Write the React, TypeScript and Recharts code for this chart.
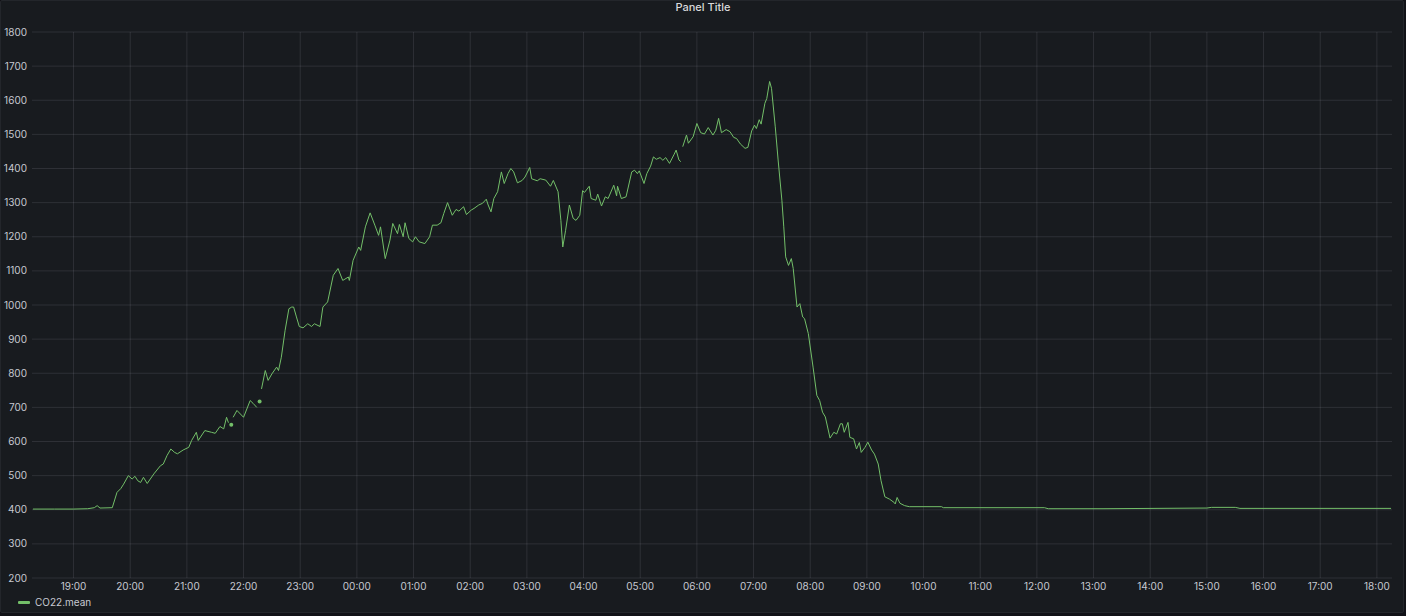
import React from "react";
import { LineChart, Line, XAxis, YAxis, CartesianGrid } from "recharts";

const times: string[] = [
  "18:17","18:40","19:00","19:15","19:22","19:25","19:28","19:41","19:46","19:50",
  "19:53","19:58","20:02","20:05","20:08","20:11","20:14","20:18","20:25","20:32",
  "20:35","20:39","20:43","20:47","20:50","20:56","21:02","21:05","21:10","21:12",
  "21:19","21:26","21:30","21:35","21:39","21:42","21:44","21:46","21:47","21:48",
  "21:49","21:53","22:00","22:07","22:10","22:14","22:16","22:17","22:18","22:19",
  "22:23","22:26","22:30","22:35","22:37","22:40","22:44","22:48","22:51","22:53",
  "22:56","22:59","23:03","23:08","23:12","23:15","23:21","23:24","23:29","23:35",
  "23:40","23:45","23:51","23:52","23:56","00:02","00:04","00:09","00:14","00:19",
  "00:23","00:25","00:30","00:35","00:38","00:43","00:45","00:49","00:51","00:55",
  "00:59","01:02","01:06","01:12","01:17","01:20","01:25","01:29","01:32","01:36",
  "01:41","01:45","01:48","01:53","01:56","02:01","02:04","02:09","02:13","02:17",
  "02:19","02:22","02:25","02:29","02:33","02:36","02:40","02:43","02:46","02:50",
  "02:55","02:58","03:03","03:05","03:11","03:14","03:20","03:25","03:28","03:33",
  "03:36","03:38","03:41","03:45","03:49","03:52","03:56","03:59","04:01","04:06",
  "04:08","04:13","04:15","04:19","04:23","04:26","04:32","04:35","04:36","04:40",
  "04:45","04:51","04:54","04:57","04:59","05:04","05:07","05:11","05:14","05:17",
  "05:21","05:24","05:27","05:31","05:36","05:38","05:41","05:43","05:44","05:45",
  "05:49","05:51","05:56","06:00","06:04","06:08","06:12","06:17","06:20","06:23",
  "06:26","06:31","06:35","06:39","06:42","06:46","06:51","06:54","06:58","07:01",
  "07:03","07:06","07:08","07:12","07:14","07:17","07:19","07:23","07:26","07:30",
  "07:32","07:34","07:37","07:40","07:42","07:46","07:49","07:52","07:54","07:58",
  "08:03","08:07","08:10","08:13","08:16","08:21","08:25","08:28","08:32","08:34",
  "08:36","08:40","08:42","08:46","08:49","08:52","08:54","08:58","09:01","09:05",
  "09:08","09:12","09:15","09:19","09:24","09:29","09:30","09:32","09:35","09:40",
  "09:45","10:19","10:21","12:08","12:12","13:10","15:00","15:05","15:30","15:35",
  "18:15"
];

const co2: (number | null)[] = [
  402,402,402,403,406,412,405,406,451,462,
  475,500,490,498,485,480,495,477,505,529,
  534,559,578,568,564,575,583,603,627,603,
  632,627,624,644,637,671,655,null,649,null,
  671,691,671,720,712,700,null,717,null,754,
  808,779,798,818,808,847,926,989,994,994,
  965,937,933,945,937,945,937,994,1009,1087,
  1107,1072,1082,1072,1131,1170,1160,1229,1270,1234,
  1204,1229,1136,1190,1239,1209,1236,1200,1241,1195,
  1185,1200,1185,1180,1200,1234,1234,1241,1268,1300,
  1263,1280,1275,1288,1265,1278,1283,1293,1298,1310,
  1293,1273,1312,1332,1390,1356,1385,1400,1390,1358,
  1365,1375,1403,1370,1364,1370,1366,1348,1365,1332,
  1248,1170,1219,1293,1254,1248,1263,1335,1330,1348,
  1312,1307,1325,1290,1317,1312,1351,1320,1348,1312,
  1317,1390,1395,1385,1393,1356,1385,1407,1434,1427,
  1432,1424,1432,1415,1442,1454,1425,1420,null,1464,
  1498,1474,1493,1532,1505,1501,1520,1498,1512,1547,
  1505,1514,1508,1491,1488,1472,1459,1462,1510,1527,
  1517,1543,1530,1591,1605,1655,1635,1522,1425,1307,
  1229,1141,1116,1136,1107,994,1004,965,960,916,
  818,735,720,686,672,610,627,622,652,652,
  627,656,612,608,578,597,568,583,598,575,
  563,534,485,438,431,421,417,436,419,412,
  409,409,406,406,403,403,405,407,407,404,
  404
];

const yTicks = [200, 300, 400, 500, 600, 700, 800, 900, 1000, 1100, 1200, 1300, 1400, 1500, 1600, 1700, 1800];
const xTickLabels = ["19:00","20:00","21:00","22:00","23:00","00:00","01:00","02:00","03:00","04:00","05:00","06:00","07:00","08:00","09:00","10:00","11:00","12:00","13:00","14:00","15:00","16:00","17:00","18:00"];

const X_START = 16; // 18:16, minutes after 18:00 of day one
const X_END = 1456; // 18:16 next day

// convert a sequence of clock times to minutes since 18:00 of the first day,
// rolling over to the next day whenever the clock goes backwards
const toMinutes = (list: string[]) => {
  let day = 0;
  let prev = -1;
  return list.map((s) => {
    const [h, m] = s.split(":").map(Number);
    let mins = (h - 18) * 60 + m;
    if (mins < 0) mins += 1440;
    if (mins + day * 1440 < prev) day += 1;
    const out = mins + day * 1440;
    prev = out;
    return out;
  });
};

const tMins = toMinutes(times);
const data = times.map((_, i) => ({ t: tMins[i], v: co2[i] }));
const xTicks = toMinutes(xTickLabels);

const fmtX = (m: number) => {
  const h = (Math.floor(m / 60) + 18) % 24;
  const mm = m % 60;
  return `${String(h).padStart(2, "0")}:${String(mm).padStart(2, "0")}`;
};

const GREEN = "#73BF69";
const TEXT = "#c7c9d1";
const FONT = "Inter, 'Noto Sans', sans-serif";

const IsolatedDot = (props: any) => {
  const { cx, cy, index } = props;
  const cur = data[index];
  const prev = data[index - 1];
  const next = data[index + 1];
  const isolated =
    cur && cur.v != null && (!prev || prev.v == null) && (!next || next.v == null);
  if (!isolated || cx == null || cy == null) return <g key={`d${index}`} />;
  return <circle key={`d${index}`} cx={cx} cy={cy} r={2} fill={GREEN} stroke="none" />;
};

const verticalGen = ({ offset }: any) =>
  xTicks.map((t) => offset.left + ((t - X_START) / (X_END - X_START)) * offset.width);

export default function App() {
  return (
    <div
      style={{
        position: "absolute",
        left: 0,
        top: 0,
        width: 1406,
        height: 616,
        background: "#111217",
        fontFamily: FONT,
        overflow: "hidden",
      }}
    >
      <div
        style={{
          position: "absolute",
          left: 0,
          top: 0,
          width: 1402,
          height: 611,
          background: "#181b1f",
          border: "1px solid #23262b",
          borderRadius: 2,
        }}
      />
      <div
        style={{
          position: "absolute",
          left: 0,
          width: 1406,
          top: 0,
          textAlign: "center",
          color: "#d8d9da",
          fontSize: 11,
          fontWeight: 500,
          lineHeight: "14px",
        }}
      >
        Panel Title
      </div>
      <div style={{ position: "absolute", left: 0, top: 0 }}>
        <LineChart
          width={1406}
          height={616}
          data={data}
          margin={{ top: 32, right: 14, left: 0, bottom: 18 }}
        >
          <CartesianGrid
            stroke="rgba(204,204,220,0.12)"
            strokeWidth={1}
            verticalCoordinatesGenerator={verticalGen}
          />
          <XAxis
            dataKey="t"
            type="number"
            domain={[X_START, X_END]}
            ticks={xTicks}
            tickFormatter={fmtX}
            axisLine={false}
            tickLine={false}
            tickSize={0}
            tickMargin={5}
            height={20}
            interval={0}
            allowDataOverflow
            tick={{ fill: TEXT, fontSize: 10, fontFamily: FONT }}
          />
          <YAxis
            domain={[200, 1800]}
            ticks={yTicks}
            width={32}
            axisLine={false}
            tickLine={false}
            tickSize={0}
            tickMargin={5}
            interval={0}
            allowDataOverflow
            tick={{ fill: TEXT, fontSize: 10, fontFamily: FONT }}
          />
          <Line
            type="linear"
            dataKey="v"
            stroke={GREEN}
            strokeWidth={1}
            dot={IsolatedDot}
            activeDot={false}
            connectNulls={false}
            isAnimationActive={false}
          />
        </LineChart>
      </div>
      <div
        style={{
          position: "absolute",
          left: 18,
          top: 595,
          display: "flex",
          alignItems: "center",
          fontSize: 10,
          color: TEXT,
          height: 14,
        }}
      >
        <div style={{ width: 12, height: 3, background: GREEN, borderRadius: 1, marginRight: 5 }} />
        <span>CO22.mean</span>
      </div>
    </div>
  );
}
